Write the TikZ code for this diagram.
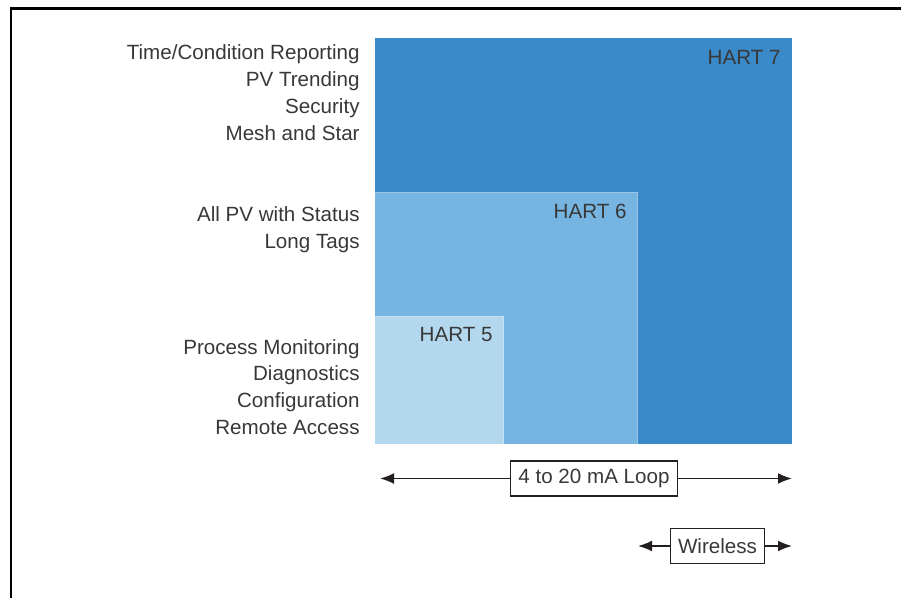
\documentclass[tikz,border=0pt]{standalone}
\usepackage{fontspec}
\setmainfont{Liberation Sans}
\usepackage{tikz}
\usetikzlibrary{positioning}
\usetikzlibrary{arrows.meta}
\usepackage{xcolor}
\definecolor{hartseven}{HTML}{3A89C9}
\definecolor{hartsix}{HTML}{76B4E1}
\definecolor{hartfive}{HTML}{B3D8EE}
\definecolor{inkgray}{HTML}{383838}
\definecolor{linegray}{HTML}{231F20}

\begin{document}
\begin{tikzpicture}[x=0.5pt, y=-0.5pt,
        every node/.style = {font=\fontsize{10.3}{13}\selectfont, text=inkgray},
        feature/.style = {anchor=base east, inner sep=0pt},
        version/.style = {anchor=base east, inner sep=0pt},
        rangebox/.style = {draw=linegray, line width=0.6pt, inner xsep=3.8pt, minimum height=17.5pt},
        span/.style = {-{Latex[length=7pt, width=5.5pt]}, draw=linegray, line width=0.9pt}
        ]
        \useasboundingbox (0,0) rectangle (901,598);
        % frame
        \draw[line width=1.1pt] (11,598) -- (11,8.5) -- (901,8.5);

        % nested protocol blocks
        \fill[hartseven] (375,38) rectangle (792,444);
        \fill[hartsix] (375,192) rectangle (637,444);
        \draw[hartsix!75!white, line width=0.4pt] (375,192) -- (637,192) -- (637,444);
        \fill[hartfive] (375,316) rectangle (503,444);
        \draw[hartfive!75!white, line width=0.4pt] (375,316) -- (503,316) -- (503,444);

        \node[version] (h7) at (781,65) {HART 7};
        \node[version] (h6) at (627,219) {HART 6};
        \node[version] (h5) at (493,342) {HART 5};

        % feature lists
        \foreach \txt/\y [count=\i] in {{Time/Condition Reporting}/60, PV Trending/87,
                Security/114, Mesh and Star/141, All PV with Status/222, Long Tags/249,
                Process Monitoring/355, Diagnostics/381, Configuration/408, Remote Access/435}
            \node[feature] (f\i) at (360,\y) {\txt};

        % transport ranges
        \node[rangebox] (loop) at (594,478.5) {4 to 20 mA Loop};
        \node[rangebox] (wless) at (717.5,546) {Wireless};
        \coordinate (loopL) at (380,478.5);
        \coordinate (loopR) at (792,478.5);
        \coordinate (wlessL) at (638,546);
        \coordinate (wlessR) at (792,546);
        \draw[span] (loop) -- (loopL);
        \draw[span] (loop) -- (loopR);
        \draw[span] (wless) -- (wlessL);
        \draw[span] (wless) -- (wlessR);
\end{tikzpicture}
\end{document}
